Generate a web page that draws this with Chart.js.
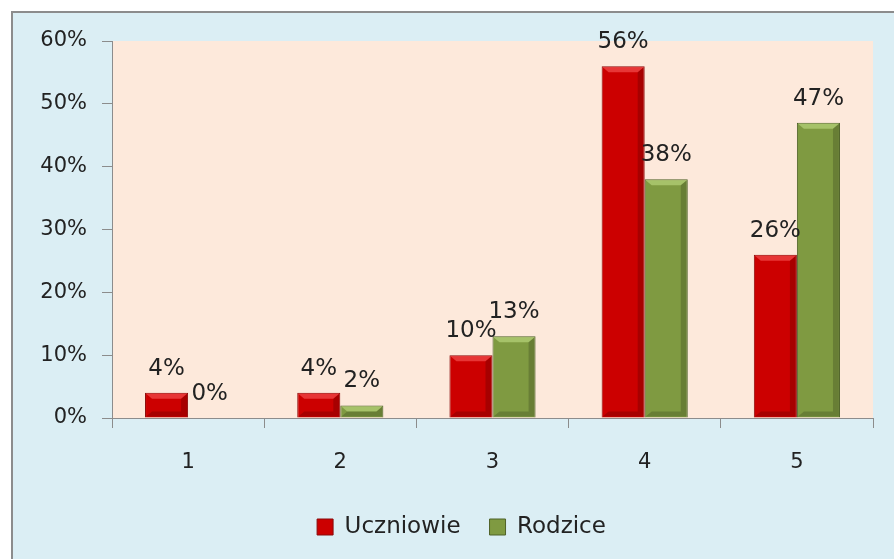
<!DOCTYPE html>
<html>
<head>
<meta charset="utf-8">
<script src="https://cdn.jsdelivr.net/npm/chart.js@4"></script>
<style>
  body { margin: 0; background: #fff; overflow: hidden; }
  #box {
    position: absolute; left: 11px; top: 11px; width: 900px; height: 560px;
    background: #dbeef4; border-top: 2px solid #8c8c8c; border-left: 2px solid #8c8c8c;
  }
  #myChart { display: block; }
</style>
</head>
<body>
<div id="box"><canvas id="myChart" width="881" height="546"></canvas></div>
<script>
// setup
const categories = ["1", "2", "3", "4", "5"];
const uczniowie = [4, 4, 10, 56, 26];
const rodzice = [0, 2, 13, 38, 47];
const yTicks = [0, 10, 20, 30, 40, 50, 60];

const FONT = "'DejaVu Sans', sans-serif";
const TEXT = "#222";

const data = {
  labels: categories,
  datasets: [
    {
      label: "Uczniowie",
      data: uczniowie,
      backgroundColor: "#cc0000",
      borderColor: "#8a0a0a",
      borderWidth: 1,
      bevel: "#f04848",
    },
    {
      label: "Rodzice",
      data: rodzice,
      backgroundColor: "#7f9a41",
      borderColor: "#4f6228",
      borderWidth: 1,
      bevel: "#b3cf77",
    },
  ],
};

// peach plot area
const plotBg = {
  id: "plotBg",
  afterLayout(chart) {
    // legend sits a bit right of the canvas centre in the original
    if (chart.legend) {
      chart.legend.left += 18.5;
      chart.legend.right += 18.5;
    }
  },
  beforeDraw(chart) {
    const { ctx, chartArea: a } = chart;
    ctx.save();
    ctx.fillStyle = "#fde9db";
    ctx.fillRect(a.left, a.top, a.right - a.left, a.bottom - a.top);
    ctx.restore();
  },
};

// bevel on bars + value labels
const barExtras = {
  id: "barExtras",
  afterDatasetsDraw(chart) {
    const ctx = chart.ctx;
    chart.data.datasets.forEach((ds, i) => {
      const meta = chart.getDatasetMeta(i);
      meta.data.forEach((bar, j) => {
        const w = bar.width;
        const l = bar.x - w / 2, r = bar.x + w / 2;
        const t = bar.y, b = bar.base;
        const h = b - t;
        ctx.save();
        if (h > 2) {
          const bv = Math.min(6, h / 2);
          // top bevel
          ctx.fillStyle = ds.bevel;
          ctx.globalAlpha = 0.75;
          ctx.beginPath();
          ctx.moveTo(l + 1, t + 1);
          ctx.lineTo(r - 1, t + 1);
          ctx.lineTo(r - 1 - bv, t + bv);
          ctx.lineTo(l + 1 + bv, t + bv);
          ctx.closePath();
          ctx.fill();
          // darker sides / bottom
          ctx.globalAlpha = 0.18;
          ctx.fillStyle = "#000";
          ctx.beginPath();
          ctx.moveTo(r - 1, t + 1);
          ctx.lineTo(r - 1, b - 1);
          ctx.lineTo(r - 1 - bv, b - bv);
          ctx.lineTo(r - 1 - bv, t + bv);
          ctx.closePath();
          ctx.fill();
          ctx.beginPath();
          ctx.moveTo(l + 1, b - 1);
          ctx.lineTo(r - 1, b - 1);
          ctx.lineTo(r - 1 - bv, b - bv);
          ctx.lineTo(l + 1 + bv, b - bv);
          ctx.closePath();
          ctx.fill();
        }
        ctx.globalAlpha = 1;
        ctx.fillStyle = TEXT;
        ctx.font = "23px " + FONT;
        ctx.textAlign = "center";
        ctx.textBaseline = "alphabetic";
        ctx.fillText(ds.data[j] + "%", bar.x, t - 18);
        ctx.restore();
      });
    });
  },
};

// config
const config = {
  type: "bar",
  data,
  options: {
    responsive: false,
    animation: false,
    categoryPercentage: 0.566,
    barPercentage: 1,
    layout: { padding: { left: 0, top: 28, right: 21, bottom: 10.5 } },
    scales: {
      x: {
        afterFit: (scale) => { scale.height = 68.5; },
        grid: {
          offset: true,
          drawOnChartArea: false,
          color: "#8c8c8c",
          tickLength: 10,
          tickColor: "#8c8c8c",
        },
        border: { color: "#8c8c8c", width: 1 },
        ticks: { color: TEXT, font: { family: FONT, size: 21 }, padding: 22 },
      },
      y: {
        min: 0,
        max: 60,
        afterFit: (scale) => { scale.width = 99; },
        afterBuildTicks: (scale) => { scale.ticks = yTicks.map((v) => ({ value: v })); },
        grid: {
          drawOnChartArea: false,
          tickLength: 10,
          tickColor: "#8c8c8c",
        },
        border: { color: "#8c8c8c", width: 1 },
        ticks: {
          color: TEXT,
          font: { family: FONT, size: 21 },
          padding: 15,
          callback: (v) => v + "%",
        },
      },
    },
    plugins: {
      tooltip: { enabled: false },
      legend: {
        position: "bottom",
        labels: {
          color: TEXT,
          font: { family: FONT, size: 23 },
          boxWidth: 16,
          boxHeight: 16,
          padding: 29,
        },
      },
    },
  },
  plugins: [plotBg, barExtras],
};

// render init block
const myChart = new Chart(document.getElementById("myChart"), config);
</script>
</body>
</html>
